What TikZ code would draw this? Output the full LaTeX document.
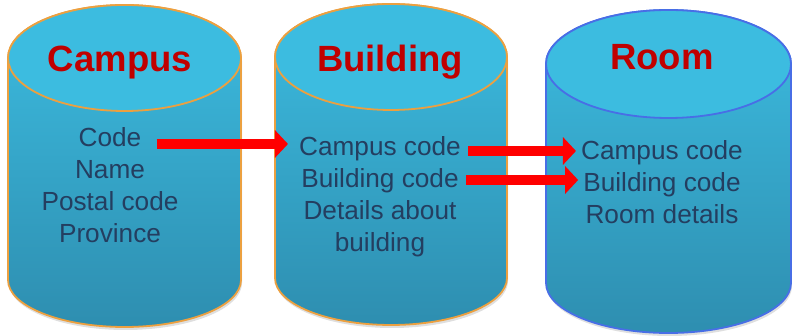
\documentclass[tikz,border=0pt]{standalone}
\usepackage{fontspec}
\setmainfont{Liberation Sans}
\usetikzlibrary{arrows.meta,shadows}

\definecolor{drumtop}{RGB}{60,188,224}
\definecolor{drumbot}{RGB}{46,142,176}
\definecolor{rimorange}{RGB}{236,160,64}
\definecolor{rimblue}{RGB}{72,110,230}
\definecolor{titlered}{RGB}{192,0,0}
\definecolor{ink}{RGB}{36,62,96}

% #1 left, #2 right, #3 top centre, #4 top radius, #5 bottom centre, #6 bottom radius, #7 rim
\newcommand{\drum}[7]{%
  \pgfmathsetmacro{\rx}{(#2-#1)/2}
  \path[drop shadow={opacity=.25,shadow xshift=1pt,shadow yshift=-3pt},
        top color=drumtop,bottom color=drumbot,draw=#7,line width=1.8pt]
    (#1,#3) -- (#1,#5) arc[start angle=180,end angle=360,x radius=\rx,y radius=#6]
    -- (#2,#3) arc[start angle=0,end angle=180,x radius=\rx,y radius=#4] -- cycle;
  \draw[fill=drumtop,draw=#7,line width=1.8pt] ({(#1+#2)/2},#3) ellipse[x radius=\rx,y radius=#4];
}

\begin{document}
\begin{tikzpicture}[x=1pt,y=1pt,
  title/.style={anchor=base,text=titlered,font=\bfseries\fontsize{36.5}{40}\selectfont},
  field/.style={anchor=base,inner sep=0pt,text height=18pt,text depth=0pt,text=ink,
    font=\fontsize{26.2}{32}\selectfont},
  link/.style={red,line width=10pt,-{Triangle[length=13pt,width=27pt]}}]
\useasboundingbox (0,0) rectangle (792,336);

% the three tables
\drum{8}{241}{278}{53}{56}{47}{rimorange}
\drum{275}{507}{279}{53}{58}{47}{rimorange}
\drum{546}{791}{272}{54}{53}{50}{rimblue}

\node[title] (campus) at (120,264) {Campus};
\node[title] (building) at (390,264) {Building};
\node[title] (room) at (662,266) {Room};

% Campus fields
\node[field] (code) at (110,189) {Code};
\node[field] (name) at (110,157) {Name};
\node[field] (postal) at (110,125) {Postal code};
\node[field] (province) at (110,93) {Province};

% Building fields
\node[field] (bcampus) at (380,180) {Campus code};
\node[field] (bcode) at (380,148) {Building code};
\node[field] (bdetails) at (380,116) {Details about};
\node[field] (bbuilding) at (380,84) {building};

% Room fields
\node[field] (rcampus) at (662,176) {Campus code};
\node[field] (rcode) at (662,144) {Building code};
\node[field] (rdetails) at (662,112) {Room details};

% keys
\draw[link] ([xshift=15pt,yshift=3pt]code.east |- bcampus.west) -- ([xshift=-11pt,yshift=3pt]bcampus.west);
\draw[link] ([xshift=7pt]bcampus.east |- rcampus.west) -- ([xshift=-5pt]rcampus.west);
\draw[link] ([xshift=7pt,yshift=3pt]bcode.east |- rcode.west) -- ([xshift=-5pt,yshift=3pt]rcode.west);
\end{tikzpicture}
\end{document}
